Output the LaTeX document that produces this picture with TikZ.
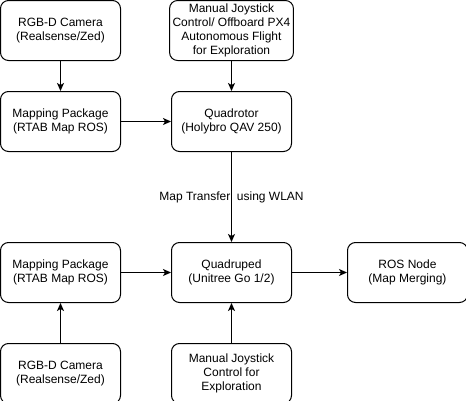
\documentclass[tikz,border=0pt]{standalone}
\usepackage{fontspec}
\setmainfont{Liberation Sans}
\usepackage{tikz}
\usetikzlibrary{arrows, arrows.meta, positioning}
\tikzset{
	every node/.style={
		align=center,
	},
}
\tikzset{
	block-node/.style={
		rectangle,
		rounded corners=8bp,
		draw=black, line width=1bp,
		minimum width=120bp,
		minimum height=60bp,
		inner sep=0.3em,
		text centered,
		align=center,
		font=\fontsize{12bp}{14bp}\selectfont,
		anchor=center
	},
	edge-style/.style = {line width=1bp, ->, >={Stealth[length=8bp,width=7bp,inset=2bp]}},
	label-node/.style = {font=\fontsize{12bp}{14bp}\selectfont},
}

\begin{document}
\begin{tikzpicture}
	\useasboundingbox (0,0) rectangle (466bp,-401bp);
	% quadrotor side
	\node (cam1) [block-node] at (60.5bp,-30.5bp) {RGB-D Camera\\(Realsense/Zed)};
	\node (map1) [block-node, below=30bp of cam1] {Mapping Package\\(RTAB Map ROS)};
	\node (quadrotor) [block-node, right=50bp of map1] {Quadrotor\\(Holybro QAV 250)};
	\node (joy1) [block-node, above=30bp of quadrotor] {Manual Joystick\\Control/ Offboard PX4\\Autonomous Flight\\for Exploration};
	% quadruped side
	\node (quadruped) [block-node, below=90bp of quadrotor] {Quadruped\\(Unitree Go 1/2)};
	\node (map2) [block-node, left=50bp of quadruped] {Mapping Package\\(RTAB Map ROS)};
	\node (cam2) [block-node, below=40bp of map2] {RGB-D Camera\\(Realsense/Zed)};
	\node (joy2) [block-node, below=40bp of quadruped] {Manual Joystick\\Control for\\Exploration};
	\node (rosnode) [block-node, right=55bp of quadruped] {ROS Node\\(Map Merging)};

	\draw [edge-style] (cam1) -- (map1);
	\draw [edge-style] (joy1) -- (quadrotor);
	\draw [edge-style] (map1) -- (quadrotor);
	\draw [edge-style] (quadrotor) -- node [label-node] {Map Transfer\ \ using WLAN} (quadruped);
	\draw [edge-style] (map2) -- (quadruped);
	\draw [edge-style] (cam2) -- (map2);
	\draw [edge-style] (joy2) -- (quadruped);
	\draw [edge-style] (quadruped) -- (rosnode);
\end{tikzpicture}
\end{document}
